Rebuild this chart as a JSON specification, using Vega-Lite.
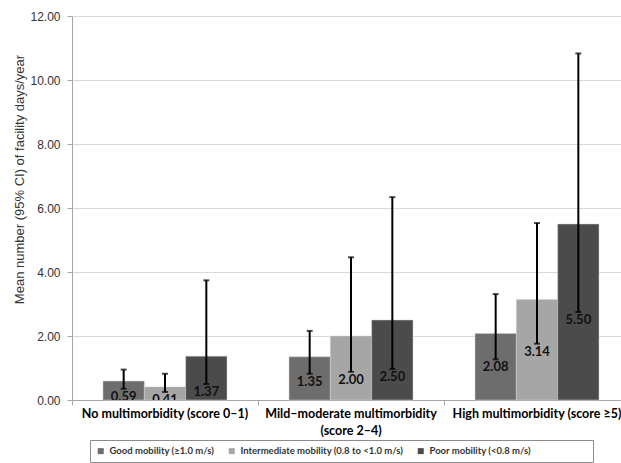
{
  "$schema": "https://vega.github.io/schema/vega-lite/v6.json",
  "autosize": {"type": "none"},
  "width": 558,
  "height": 384,
  "padding": {"left": 72, "top": 16, "right": 0, "bottom": 63},
  "background": "white",
  "config": {"view": {"stroke": null}, "font": "Liberation Sans"},
  "data": {
    "values": [
      {"cat": "No multimorbidity (score 0–1)", "mob": "Good mobility (≥1.0 m/s)", "mean": 0.59, "low": 0.35, "high": 0.95},
      {"cat": "No multimorbidity (score 0–1)", "mob": "Intermediate mobility (0.8 to <1.0 m/s)", "mean": 0.41, "low": 0.25, "high": 0.82},
      {"cat": "No multimorbidity (score 0–1)", "mob": "Poor mobility (<0.8 m/s)", "mean": 1.37, "low": 0.50, "high": 3.74},
      {"cat": "Mild–moderate multimorbidity (score 2–4)", "mob": "Good mobility (≥1.0 m/s)", "mean": 1.35, "low": 0.82, "high": 2.16},
      {"cat": "Mild–moderate multimorbidity (score 2–4)", "mob": "Intermediate mobility (0.8 to <1.0 m/s)", "mean": 2.00, "low": 0.88, "high": 4.46},
      {"cat": "Mild–moderate multimorbidity (score 2–4)", "mob": "Poor mobility (<0.8 m/s)", "mean": 2.50, "low": 0.97, "high": 6.34},
      {"cat": "High multimorbidity (score ≥5)", "mob": "Good mobility (≥1.0 m/s)", "mean": 2.08, "low": 1.27, "high": 3.31},
      {"cat": "High multimorbidity (score ≥5)", "mob": "Intermediate mobility (0.8 to <1.0 m/s)", "mean": 3.14, "low": 1.76, "high": 5.53},
      {"cat": "High multimorbidity (score ≥5)", "mob": "Poor mobility (<0.8 m/s)", "mean": 5.50, "low": 2.75, "high": 10.83}
    ]
  },
  "encoding": {
    "x": {
      "field": "cat",
      "type": "nominal",
      "sort": ["No multimorbidity (score 0–1)", "Mild–moderate multimorbidity (score 2–4)", "High multimorbidity (score ≥5)"],
      "scale": {"paddingInner": 0, "paddingOuter": 0},
      "axis": {
        "title": null,
        "domainColor": "#a6a6a6",
        "tickColor": "#a6a6a6",
        "tickSize": 5,
        "bandPosition": 0,
        "labelAngle": 0,
        "labelAlign": "center",
        "labelBaseline": "top",
        "labelFont": "Lato",
        "labelFontWeight": "bold",
        "labelFontSize": 12.5,
        "labelColor": "#000000",
        "labelPadding": 2,
        "labelLimit": 0,
        "labelLineHeight": 17,
        "labelExpr": "datum.value == 'Mild–moderate multimorbidity (score 2–4)' ? ['Mild–moderate multimorbidity', '(score 2–4)'] : datum.value"
      }
    },
    "xOffset": {
      "field": "mob",
      "type": "nominal",
      "sort": ["Good mobility (≥1.0 m/s)", "Intermediate mobility (0.8 to <1.0 m/s)", "Poor mobility (<0.8 m/s)"],
      "scale": {"paddingInner": 0, "paddingOuter": 0.75}
    }
  },
  "layer": [
    {
      "mark": {"type": "bar", "stroke": "#d0d0d0", "strokeWidth": 0.5},
      "encoding": {
        "y": {
          "field": "mean",
          "type": "quantitative",
          "title": "Mean number (95% CI) of facility days/year",
          "scale": {"domain": [0, 12]},
          "axis": {
            "format": ".2f",
            "values": [0, 2, 4, 6, 8, 10, 12],
            "grid": true,
            "gridColor": "#d9d9d9",
            "domainColor": "#a6a6a6",
            "tickColor": "#a6a6a6",
            "tickSize": 5,
            "labelPadding": 7,
            "labelFont": "Liberation Sans",
            "labelFontSize": 12,
            "labelColor": "#333333",
            "titleFont": "Liberation Sans",
            "titleFontSize": 13,
            "titleFontWeight": "normal",
            "titleColor": "#333333",
            "titleX": -53,
            "titleY": 163,
            "titleAngle": -90,
            "titleAlign": "center",
            "titleBaseline": "middle"
          }
        },
        "color": {
          "field": "mob",
          "type": "nominal",
          "sort": ["Good mobility (≥1.0 m/s)", "Intermediate mobility (0.8 to <1.0 m/s)", "Poor mobility (<0.8 m/s)"],
          "scale": {
            "domain": ["Good mobility (≥1.0 m/s)", "Intermediate mobility (0.8 to <1.0 m/s)", "Poor mobility (<0.8 m/s)"],
            "range": ["#6d6d6d", "#a6a6a6", "#4b4b4b"]
          },
          "legend": {
            "orient": "none",
            "legendX": 18,
            "legendY": 424,
            "direction": "horizontal",
            "columns": 3,
            "title": " ",
            "titleOrient": "right",
            "titlePadding": 56,
            "symbolType": "square",
            "symbolSize": 36,
            "symbolStrokeWidth": 0,
            "labelFont": "Lato",
            "labelFontWeight": "bold",
            "labelFontSize": 9.5,
            "labelColor": "#333333",
            "labelOffset": 4,
            "labelLimit": 0,
            "strokeColor": "#8c8c8c",
            "padding": 6,
            "columnPadding": 12
          }
        }
      }
    },
    {
      "mark": {"type": "rule", "color": "#000000", "strokeWidth": 2},
      "encoding": {
        "y": {"field": "low", "type": "quantitative", "title": "Mean number (95% CI) of facility days/year"},
        "y2": {"field": "high"}
      }
    },
    {
      "mark": {"type": "tick", "color": "#000000", "thickness": 2, "size": 6},
      "encoding": {
        "y": {"field": "high", "type": "quantitative", "title": "Mean number (95% CI) of facility days/year"}
      }
    },
    {
      "mark": {"type": "tick", "color": "#000000", "thickness": 2, "size": 6},
      "encoding": {
        "y": {"field": "low", "type": "quantitative", "title": "Mean number (95% CI) of facility days/year"}
      }
    },
    {
      "mark": {"type": "text", "baseline": "top", "dy": 2, "font": "Lato", "fontWeight": "bold", "fontSize": 13, "color": "#111111", "clip": true},
      "encoding": {
        "y": {"field": "low", "type": "quantitative", "title": "Mean number (95% CI) of facility days/year"},
        "text": {"field": "mean", "type": "quantitative", "format": ".2f"}
      }
    }
  ]
}
